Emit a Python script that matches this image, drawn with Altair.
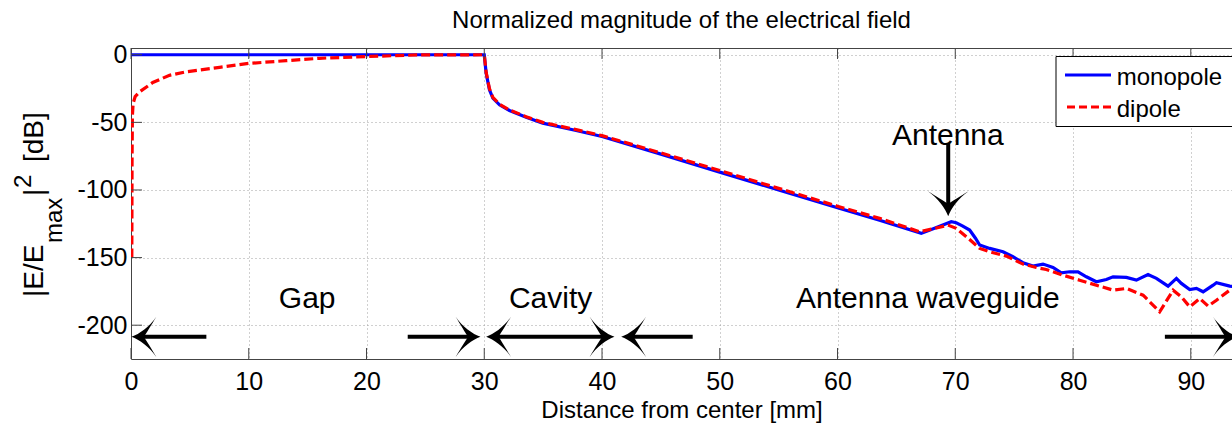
import altair as alt
import pandas as pd

FONT = "Liberation Sans"
W, H = 1101, 311

# ---------------- data ----------------
series_names = ["monopole", "dipole"]

mono_x = [0, 30.0, 30.16, 30.44, 30.73, 31.29, 32.14, 33.56, 34.97, 37.8, 40.0, 45.0,
          50.0, 55.0, 60.0, 63.57, 67.11, 68.4, 69.66, 70.08, 70.6, 71.22, 71.7, 72.07,
          72.92, 74.05, 74.9, 75.75, 76.6, 77.45, 78.3, 79.0, 79.71, 80.42, 81.13, 81.98,
          82.83, 83.4, 84.53, 85.38, 86.37, 87.08, 88.07, 88.78, 89.2, 89.91, 90.48,
          91.05, 91.9, 92.18, 93.31, 93.6]
mono_y = [0, 0, -13.6, -25.9, -32.1, -37.0, -41.2, -46.2, -50.6, -56.0, -60.5, -73.5,
          -86.8, -100.0, -113.2, -122.4, -132.1, -127.7, -123.5, -124.2, -126.5, -129.6,
          -135.5, -140.7, -143.2, -145.7, -149.4, -153.8, -156.3, -154.8, -157.3, -161.2,
          -160.5, -160.5, -164.2, -167.9, -166.2, -164.2, -164.7, -166.7, -162.5, -165.4,
          -171.1, -165.4, -169.1, -173.6, -172.8, -175.3, -170.4, -168.6, -171.1, -171.5]

dip_x = [0.07, 0.09, 0.12, 0.18, 0.35, 0.72, 1.85, 3.27, 4.69, 7.52, 9.98, 13.18, 16.0,
         20.0, 24.5, 30.0, 30.16, 30.44, 30.73, 31.29, 32.14, 33.56, 34.97, 37.8, 40.0,
         45.0, 50.0, 55.0, 60.0, 63.57, 66.97, 68.2, 69.38, 70.08, 71.0, 72.07, 72.92,
         74.34, 75.75, 76.88, 77.73, 79.15, 80.56, 81.98, 83.4, 84.53, 85.95, 87.36,
         88.5, 89.2, 89.91, 90.76, 91.47, 92.18, 93.31, 93.6]
dip_y = [-150, -80, -45, -36, -31, -27.5, -20.5, -15.2, -12.6, -9.3, -6.4, -4.4, -2.6,
         -1.3, -0.1, 0, -13.0, -25.0, -31.5, -36.5, -40.8, -45.8, -50.0, -55.4, -59.8,
         -72.6, -85.6, -98.8, -112.0, -121.0, -130.9, -128.5, -126.0, -128.4, -135.0,
         -143.2, -145.7, -148.9, -154.8, -157.3, -158.8, -163.0, -166.7, -170.4, -174.1,
         -172.8, -177.8, -190.1, -174.1, -179.0, -186.4, -180.2, -185.9, -181.5, -174.1,
         -173.5]

x_ticks = [0, 10, 20, 30, 40, 50, 60, 70, 80, 90]
y_ticks = [-200, -150, -100, -50, 0]

ann_text = ["Gap", "Cavity", "Antenna waveguide", "Antenna"]
ann_x = [14.96, 35.63, 67.67, 69.37]
ann_y = [-187.2, -187.2, -187.2, -66.6]

# horizontal single/double arrows (start, end) and which ends carry a head
arr_x1 = [0.04, 23.5, 30.16, 41.63, 87.8]
arr_x2 = [6.4, 29.68, 41.06, 47.7, 94.0]
arr_head_start = [True, False, True, True, False]
arr_head_end = [False, True, True, False, True]
arr_y = -208.6
# vertical "Antenna" arrow
ant_x = 69.4
ant_top = -65.4
ant_tip = -119.5

# ---------------- derived tables ----------------
xs = alt.Scale(domain=[0, 93.5], nice=False, zero=False)
ys = alt.Scale(domain=[-225, 5], nice=False, zero=False)

mono_df = pd.DataFrame({"x": mono_x, "y": mono_y, "i": range(len(mono_x))})
dip_df = pd.DataFrame({"x": dip_x, "y": dip_y, "i": range(len(dip_x))})

HEAD_BACK_MM = 0.9
HEAD_BACK_DB = 7.5
shaft_rows, head_rows = [], []
for a, b, hs, he in zip(arr_x1, arr_x2, arr_head_start, arr_head_end):
    s = a + HEAD_BACK_MM if hs else a
    e = b - HEAD_BACK_MM if he else b
    shaft_rows.append({"x1": s, "x2": e, "y": arr_y})
    if hs:
        head_rows.append({"hx": a, "hy": arr_y, "ang": 180})
    if he:
        head_rows.append({"hx": b, "hy": arr_y, "ang": 0})
head_rows.append({"hx": ant_x, "hy": ant_tip, "ang": 90})
shaft_df = pd.DataFrame(shaft_rows)
vshaft_df = pd.DataFrame({"x": [ant_x], "y1": [ant_top], "y2": [ant_tip + HEAD_BACK_DB]})
head_df = pd.DataFrame(head_rows)
ann_df = pd.DataFrame({"t": ann_text, "x": ann_x, "y": ann_y})

ARROW_PATH = ("M0,0 C-0.4,-0.15 -0.9,-0.5 -1.25,-1.02 C-1.0,-0.6 -0.75,-0.2 -0.62,0 "
              "C-0.75,0.2 -1.0,0.6 -1.25,1.02 C-0.9,0.5 -0.4,0.15 0,0 Z")

x_axis = alt.Axis(values=x_ticks, title="Distance from center [mm]", labelPadding=10,
                  titlePadding=4, labelFlush=False)
y_axis = alt.Axis(values=y_ticks, title=None, labelPadding=4, labelFlush=False)

mono = alt.Chart(mono_df).mark_line(color="#0000ff", strokeWidth=3.2, clip=True).encode(
    x=alt.X("x:Q", scale=xs, axis=x_axis),
    y=alt.Y("y:Q", scale=ys, axis=y_axis),
    order="i:Q",
)
dip = alt.Chart(dip_df).mark_line(color="#ff0000", strokeWidth=3.2, strokeDash=[9, 4],
                                  clip=True).encode(
    x=alt.X("x:Q", scale=xs),
    y=alt.Y("y:Q", scale=ys),
    order="i:Q",
)

tick_col = "#444444"
yt_df = pd.DataFrame({"v": y_ticks})
xt_df = pd.DataFrame({"v": x_ticks})
ytick = alt.Chart(yt_df).mark_rule(color=tick_col, strokeWidth=1).encode(
    y=alt.Y("v:Q", scale=ys), x=alt.value(0), x2=alt.value(11))
xtick_top = alt.Chart(xt_df).mark_rule(color=tick_col, strokeWidth=1).encode(
    x=alt.X("v:Q", scale=xs), y=alt.value(0), y2=alt.value(11))
xtick_bot = alt.Chart(xt_df).mark_rule(color=tick_col, strokeWidth=1).encode(
    x=alt.X("v:Q", scale=xs), y=alt.value(H), y2=alt.value(H - 11))
one = pd.DataFrame({"k": [0]})
top_border = alt.Chart(one).mark_rule(color=tick_col, strokeWidth=1).encode(
    x=alt.value(0), x2=alt.value(W), y=alt.value(0.5))

# arrows
shafts = alt.Chart(shaft_df).mark_rule(color="black", strokeWidth=4, clip=True).encode(
    x=alt.X("x1:Q", scale=xs), x2="x2:Q", y=alt.Y("y:Q", scale=ys))
vshaft = alt.Chart(vshaft_df).mark_rule(color="black", strokeWidth=4).encode(
    x=alt.X("x:Q", scale=xs), y=alt.Y("y1:Q", scale=ys), y2="y2:Q")
heads = alt.Chart(head_df).mark_point(shape=ARROW_PATH, size=1600, filled=True,
                                      color="black", opacity=1, strokeWidth=0).encode(
    x=alt.X("hx:Q", scale=xs), y=alt.Y("hy:Q", scale=ys),
    angle=alt.Angle("ang:Q", scale=None))

ann = alt.Chart(ann_df).mark_text(font=FONT, fontSize=30, color="black", align="center",
                                  baseline="alphabetic").encode(
    x=alt.X("x:Q", scale=xs), y=alt.Y("y:Q", scale=ys), text="t:N")

# legend (drawn inside the axes as in the reference)
leg_box = alt.Chart(one).mark_rect(fill="white", stroke="black", strokeWidth=1).encode(
    x=alt.value(925), x2=alt.value(1130), y=alt.value(8.5), y2=alt.value(78.5))
leg_mono = alt.Chart(one).mark_rule(color="#0000ff", strokeWidth=3.2).encode(
    x=alt.value(934), x2=alt.value(980), y=alt.value(27))
leg_dip = alt.Chart(one).mark_rule(color="#ff0000", strokeWidth=3.2, strokeDash=[8, 4]).encode(
    x=alt.value(936), x2=alt.value(980), y=alt.value(59))
leg_t1 = alt.Chart(pd.DataFrame({"s": [series_names[0]]})).mark_text(
    font=FONT, fontSize=24, align="left", baseline="alphabetic", color="black").encode(
    x=alt.value(985.7), y=alt.value(37), text="s:N")
leg_t2 = alt.Chart(pd.DataFrame({"s": [series_names[1]]})).mark_text(
    font=FONT, fontSize=24, align="left", baseline="alphabetic", color="black").encode(
    x=alt.value(985.7), y=alt.value(68.7), text="s:N")

# y-axis title |E/E_max|^2 [dB], rotated, built from pieces
def ypiece(txt, px, py, fs):
    return alt.Chart(pd.DataFrame({"s": [txt]})).mark_text(
        font=FONT, fontSize=fs, angle=270, align="left", baseline="alphabetic",
        color="black").encode(x=alt.value(px), y=alt.value(py), text="s:N")

ytitle = [
    ypiece("|E/E", -88, 249, 28),
    ypiece("max", -69, 195, 24),
    ypiece("|", -88, 148, 28),
    ypiece("2", -100, 140, 24),
    ypiece("[dB]", -88, 114, 28),
]

chart = alt.layer(
    mono, dip, ytick, xtick_top, xtick_bot, top_border, shafts, vshaft, heads,
    ann, leg_box, leg_mono, leg_dip, leg_t1, leg_t2, *ytitle
).properties(
    width=W, height=H,
    title=alt.TitleParams("Normalized magnitude of the electrical field", font=FONT,
                          fontSize=24, fontWeight="normal", color="black",
                          anchor="middle", baseline="alphabetic", frame="group",
                          offset=-9),
    autosize=alt.AutoSizeParams(type="none"),
    padding={"left": 131, "top": 48, "right": 0, "bottom": 64},
).configure(
    background="white",
    locale={"number": {"decimal": ".", "thousands": ",", "grouping": [3],
                       "currency": ["$", ""], "minus": "-"}},
).configure_view(stroke=None).configure_axis(
    grid=True, gridColor="#a0a0a0", gridDash=[1, 3], gridWidth=1,
    ticks=False, domainColor="#444444", domainWidth=1,
    labelFont=FONT, labelFontSize=25, labelColor="black",
    titleFont=FONT, titleFontSize=24, titleFontWeight="normal", titleColor="black",
)

chart.save("out.html", embed_options={"renderer": "svg", "actions": False})
